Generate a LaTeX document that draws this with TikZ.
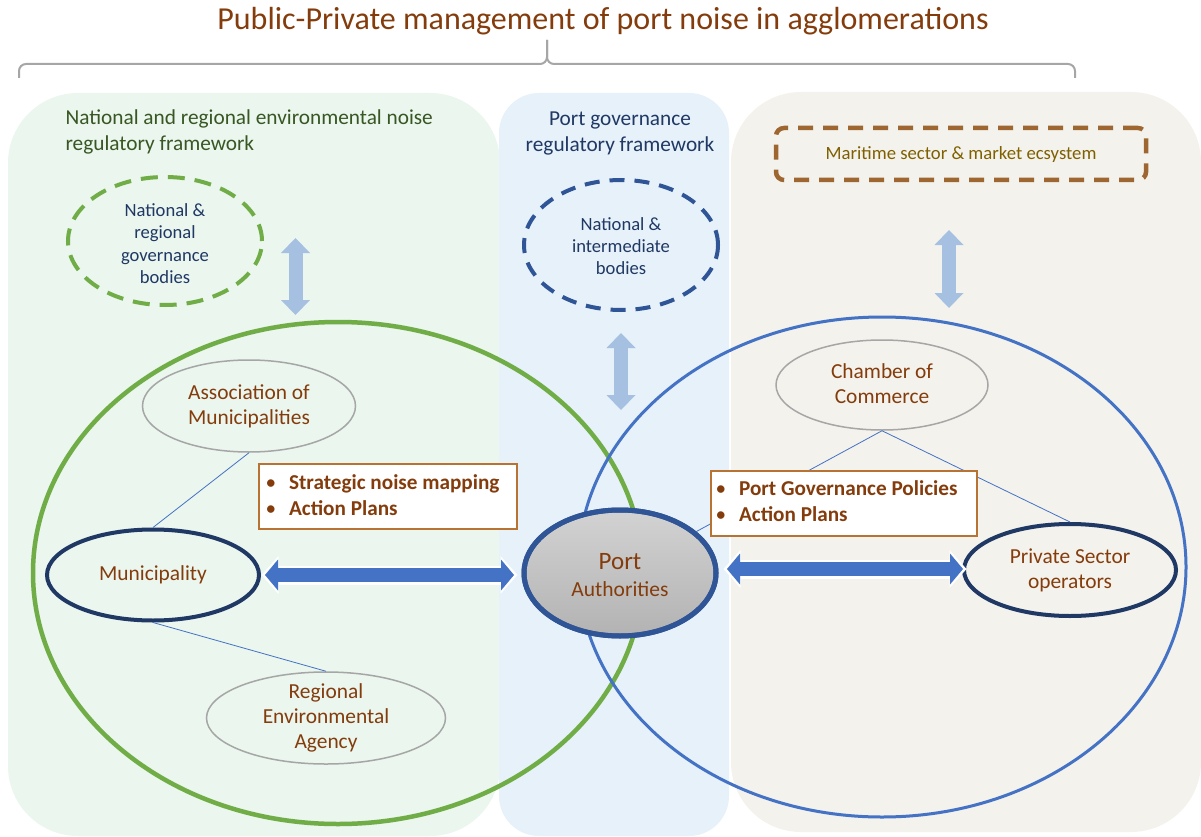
\documentclass[tikz,border=0pt]{standalone}
\usepackage{fontspec}
\setmainfont{Carlito}
\usetikzlibrary{arrows.meta,shapes.geometric}
\definecolor{pgreen}{HTML}{EAF6EE}
\definecolor{pblue}{HTML}{E6F1F9}
\definecolor{pbeige}{HTML}{F4F2EC}
\definecolor{brownt}{HTML}{843C0C}
\definecolor{olivet}{HTML}{7F6000}
\definecolor{dgreen}{HTML}{385723}
\definecolor{dblue}{HTML}{203864}
\definecolor{accgreen}{HTML}{70AD47}
\definecolor{accblue}{HTML}{4472C4}
\definecolor{midblue}{HTML}{2F5597}
\definecolor{navy}{HTML}{1F3864}
\definecolor{lightarr}{HTML}{A6C0E2}
\definecolor{boxbrown}{HTML}{B87333}
\definecolor{dashbrown}{HTML}{9E6630}
\definecolor{bracegray}{HTML}{A6A6A6}
\tikzset{
  elgray/.style={ellipse, draw=bracegray, line width=1.5pt, inner sep=0pt},
  elnavy/.style={ellipse, draw=navy, line width=4pt, inner sep=0pt},
  brtext/.style={text=brownt, align=center, font=\fontsize{21.4}{25}\selectfont},
  bltext/.style={text=dblue, align=center, font=\fontsize{18.6}{22.3}\selectfont},
  thinlink/.style={draw=accblue, line width=0.8pt},
  infobox/.style={draw=boxbrown, line width=1.4pt, fill=white, inner sep=0pt},
  boxtext/.style={anchor=west, text=brownt, font=\bfseries\fontsize{21.2}{26}\selectfont, align=left},
  bigarrow/.style={accblue, line width=14pt, {Triangle[length=13pt,width=31pt,line width=0pt]}-{Triangle[length=13pt,width=31pt,line width=0pt]}},
  bigarrowrim/.style={white, line width=19pt, shorten <=-3.5pt, shorten >=-3.5pt, {Triangle[length=17pt,width=38pt,line width=0pt]}-{Triangle[length=17pt,width=38pt,line width=0pt]}},
  lightarrow/.style={lightarr, line width=14pt, {Triangle[length=15pt,width=29pt,line width=0pt]}-{Triangle[length=15pt,width=29pt,line width=0pt]}},
}
\begin{document}
\begin{tikzpicture}[x=1pt,y=-1pt]
\useasboundingbox (0,0) rectangle (1201,837);
% panels
\fill[pgreen, rounded corners=70pt] (8,93) rectangle (500,836);
\fill[pblue, rounded corners=40pt] (499,93) rectangle (729,836);
\fill[pbeige, rounded corners=70pt] (731,92) rectangle (1201,832);
% title and brace
\node[text=brownt, font=\fontsize{32}{36}\selectfont] (title) at (603,21) {Public-Private management of port noise in agglomerations};
\draw[bracegray, line width=2pt, rounded corners=7pt] (19,78) -- (19,64) -- (547,64) -- (547,40);
\draw[bracegray, line width=2pt, rounded corners=7pt] (1075,78) -- (1075,64) -- (547,64) -- (547,40);
% headers
\node[anchor=west, text=dgreen, align=left, font=\fontsize{21.3}{26}\selectfont] (hgreen) at (62,132) {National and regional environmental noise\\regulatory framework};
\node[text=dblue, align=center, font=\fontsize{21.3}{26}\selectfont] (hblue) at (620,133) {Port governance\\regulatory framework};
% dashed top nodes
\node[ellipse, draw=accgreen, line width=4pt, dash pattern=on 17pt off 10pt, minimum width=194pt, minimum height=128pt, inner sep=0pt] (nrg) at (165,241) {};
\node[bltext] (nrgt) at (165,243.5) {National \&\\regional\\governance\\bodies};
\node[ellipse, draw=midblue, line width=4pt, dash pattern=on 15pt off 10pt, minimum width=194pt, minimum height=130pt, inner sep=0pt] (nib) at (621,245) {};
\node[bltext] (nibt) at (621,246) {National \&\\intermediate\\bodies};
\node[draw=dashbrown, line width=4.5pt, dash pattern=on 15pt off 10pt, rounded corners=8pt, minimum width=370pt, minimum height=52pt, inner sep=0pt] (mkt) at (961,154) {};
\node[text=olivet, font=\fontsize{18.7}{22}\selectfont] (mktt) at (961,155) {Maritime sector \& market ecsystem};
% big circles
\node[ellipse, draw=accgreen, line width=4.5pt, minimum width=610pt, minimum height=502pt, inner sep=0pt] (gcirc) at (338,573) {};
\node[ellipse, draw=accblue, line width=3pt, minimum width=608pt, minimum height=500pt, inner sep=0pt] (bcirc) at (882,567) {};
% small ellipses
\node[elgray, minimum width=213pt, minimum height=92pt] (assoc) at (249,406) {};
\node[elnavy, minimum width=212pt, minimum height=91pt] (mun) at (153,575) {};
\node[elgray, minimum width=239pt, minimum height=92pt] (rea) at (326,718) {};
\node[elgray, minimum width=212pt, minimum height=90pt] (cham) at (882,385) {};
\node[elnavy, minimum width=212pt, minimum height=92pt] (pso) at (1070,570) {};
% thin links
\draw[thinlink] (assoc.south) -- (mun.north);
\draw[thinlink] (mun.south) -- (rea.north);
\draw[thinlink] (cham.south) -- (pso.north);
% port authorities
\node[ellipse, draw=midblue, line width=5pt, top color=gray!35, bottom color=gray!60, minimum width=192pt, minimum height=126pt, inner sep=0pt] (pa) at (620,573) {};
\draw[thinlink] (cham.south) -- (pa);
\draw[midblue, line width=5pt] (pa) ellipse [x radius=96pt, y radius=63pt];
% texts of ellipses
\node[brtext] (assoct) at (249,406) {Association of\\Municipalities};
\node[brtext] (munt) at (153,575) {Municipality};
\node[brtext] (reat) at (326,718) {Regional\\Environmental\\Agency};
\node[brtext] (chamt) at (882,384) {Chamber of\\Commerce};
\node[brtext] (psot) at (1070,570) {Private Sector\\operators};
\node[text=brownt, font=\fontsize{25}{28}\selectfont] (pat1) at (620,562) {Port};
\node[text=brownt, font=\fontsize{21.5}{25}\selectfont] (pat2) at (620,589) {Authorities};
% info boxes
\node[infobox, minimum width=258pt, minimum height=65pt] (box1) at (388,496.5) {};
\node[boxtext] (box1t) at (262,497) {\begin{tabular}{@{}l@{\hspace{13pt}}l@{}}\mdseries\textbullet & Strategic noise mapping\\ \mdseries\textbullet & Action Plans\end{tabular}};
\node[infobox, minimum width=266pt, minimum height=65pt] (box2) at (844,503.5) {};
\node[boxtext] (box2t) at (712,503) {\begin{tabular}{@{}l@{\hspace{13pt}}l@{}}\mdseries\textbullet & Port Governance Policies\\ \mdseries\textbullet & Action Plans\end{tabular}};
% horizontal double arrows
\coordinate (a1s) at (265,575);
\coordinate (a1e) at (514,575);
\coordinate (a2s) at (727,569);
\coordinate (a2e) at (963,569);
\draw[bigarrowrim] (a1s) -- (a1e);
\draw[bigarrow] (a1s) -- (a1e);
\draw[bigarrowrim] (a2s) -- (a2e);
\draw[bigarrow] (a2s) -- (a2e);
% light vertical arrows
\coordinate (v1s) at (295.5,238);
\coordinate (v1e) at (295.5,315);
\coordinate (v2s) at (621,333);
\coordinate (v2e) at (621,410);
\coordinate (v3s) at (949,230);
\coordinate (v3e) at (949,308);
\draw[lightarrow] (v1s) -- (v1e);
\draw[lightarrow] (v2s) -- (v2e);
\draw[lightarrow] (v3s) -- (v3e);
\end{tikzpicture}
\end{document}
